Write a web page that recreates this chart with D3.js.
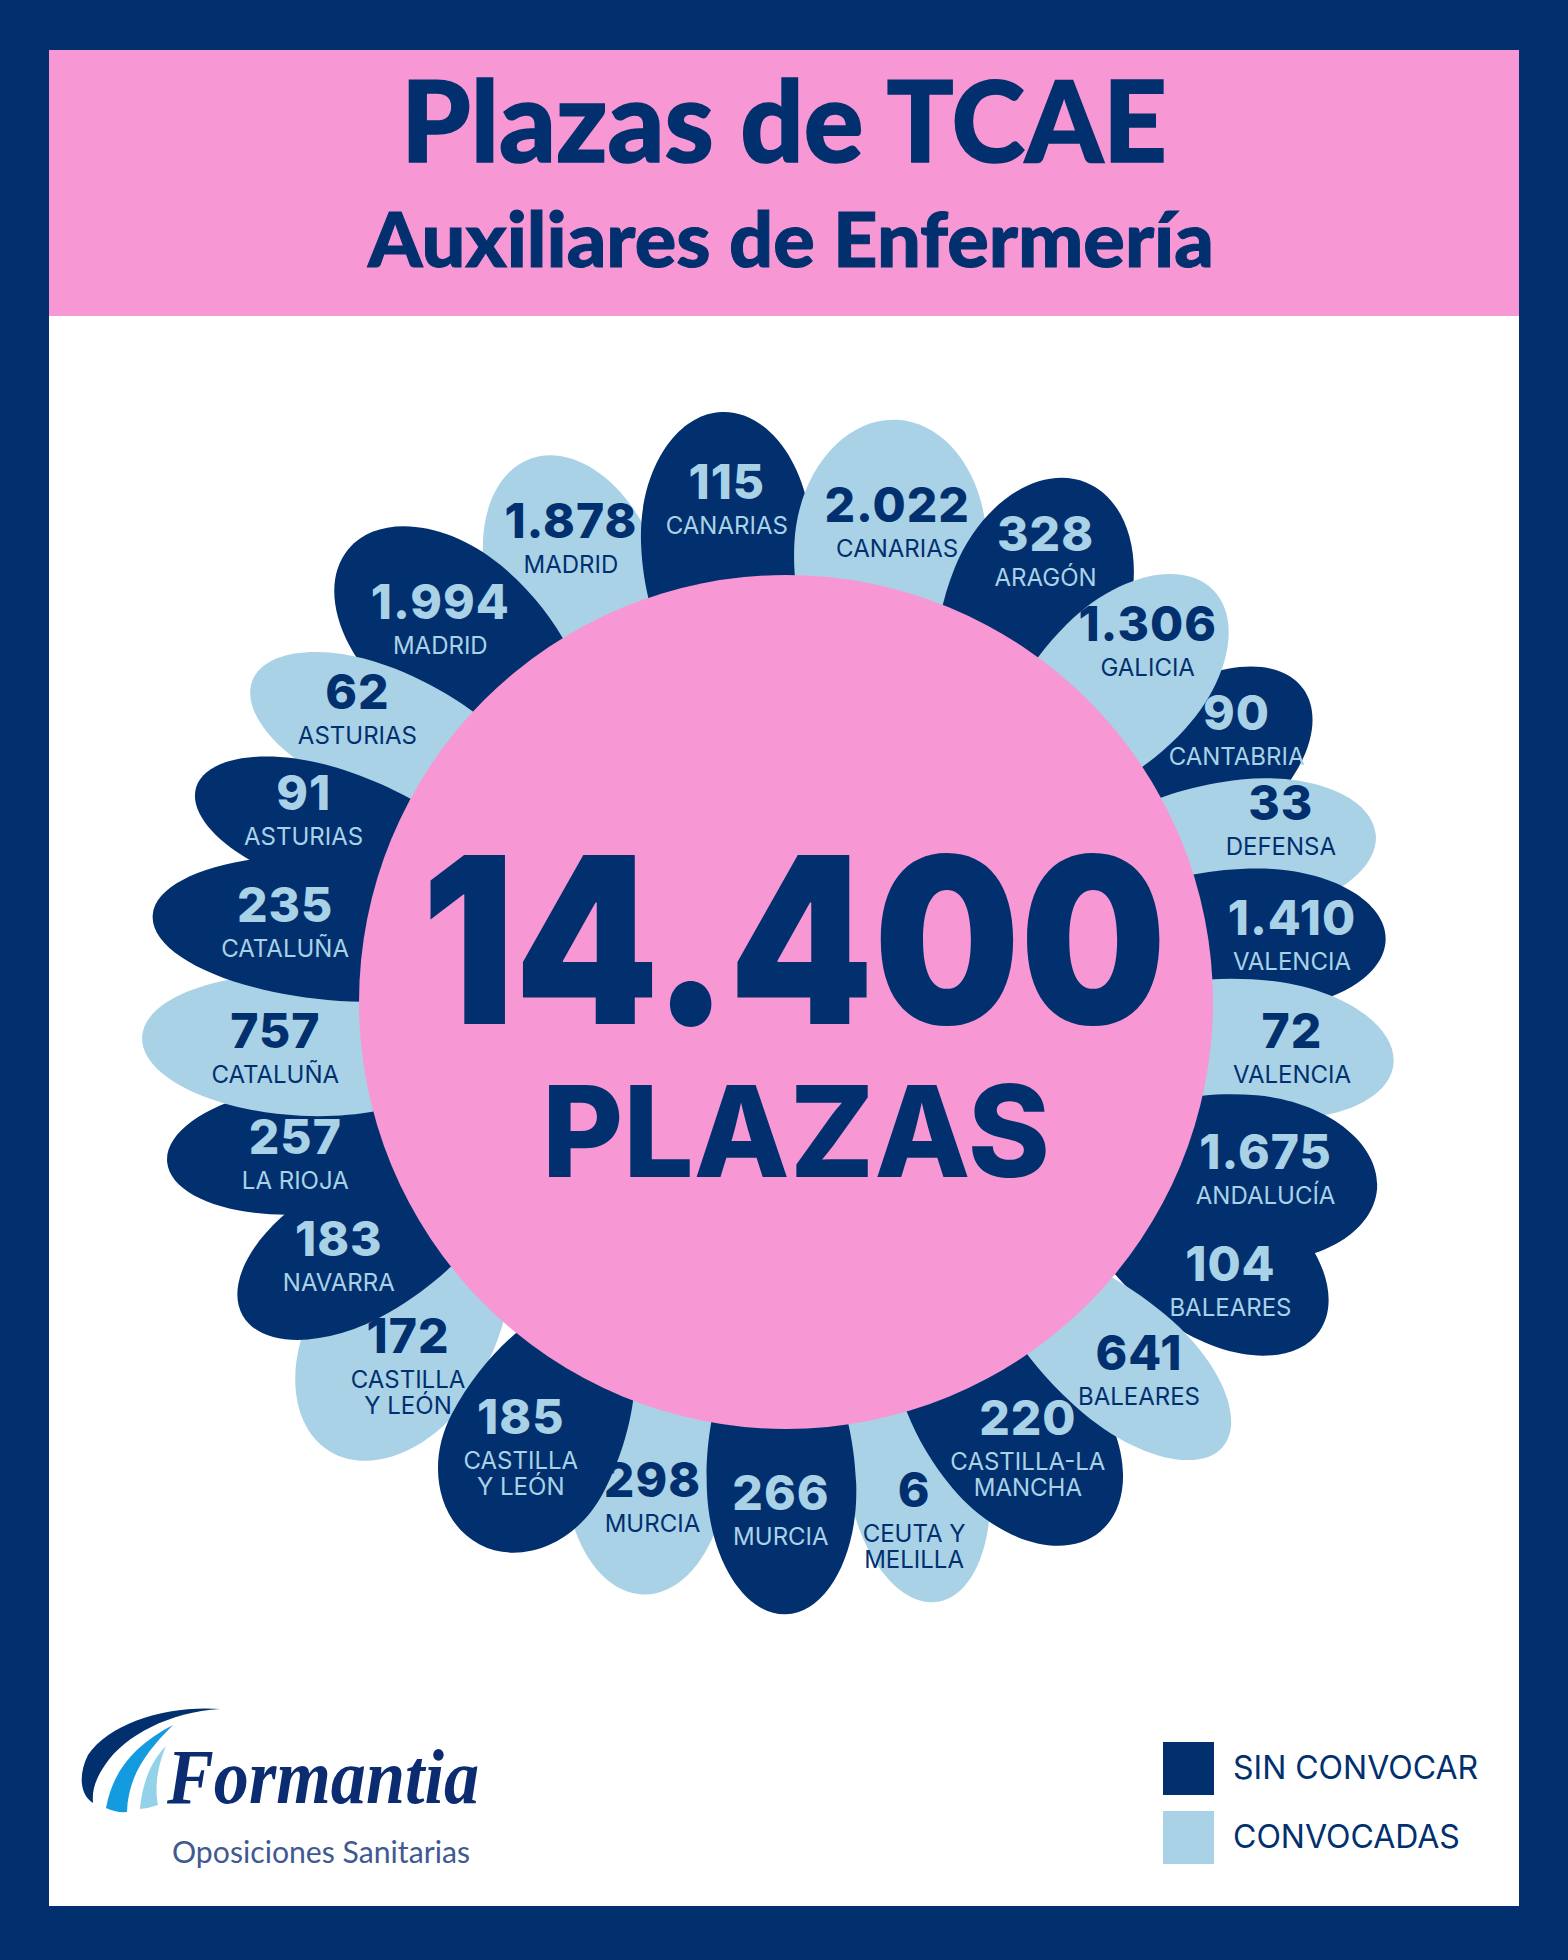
<!DOCTYPE html>
<html>
<head>
<meta charset="utf-8">
<script src="https://cdn.jsdelivr.net/npm/d3@7"></script>
<style>
  html, body { margin: 0; padding: 0; background: #fff; }
  svg { display: block; }
  text { font-family: Inter, "Noto Sans", sans-serif; }
</style>
</head>
<body>
<svg id="chart"></svg>
<script>
// clockwise from the top of the flower
const regions = ["CANARIAS", "CANARIAS", "ARAGÓN", "GALICIA", "CANTABRIA", "DEFENSA", "VALENCIA", "VALENCIA", "ANDALUCÍA", "BALEARES", "BALEARES", "CASTILLA-LA|MANCHA", "CEUTA Y|MELILLA", "MURCIA", "MURCIA", "CASTILLA|Y LEÓN", "CASTILLA|Y LEÓN", "NAVARRA", "LA RIOJA", "CATALUÑA", "CATALUÑA", "ASTURIAS", "ASTURIAS", "MADRID", "MADRID"];
const plazas = [115, 2022, 328, 1306, 90, 33, 1410, 72, 1675, 104, 641, 220, 6, 266, 298, 185, 172, 183, 257, 757, 235, 91, 62, 1994, 1878];
const status = ["S", "C", "S", "C", "S", "C", "S", "C", "S", "S", "C", "S", "C", "S", "C", "S", "C", "S", "S", "C", "S", "S", "C", "S", "C"];

// petals: tip bearing and axis in degrees, the rest in hub radii
const petalBearing = [353.8, 10.8, 30, 46, 58.8, 74.1, 84, 95.9, 107.6, 121.7, 135.5, 149.3, 165.8, 180, 193.5, 209.5, 225.5, 240, 255.5, 266.9, 277.8, 290, 301.1, 316, 334.8];
const petalAxis = [358, 3, 22, 45, 54, 84, 90, 97, 95, 125, 130, 140, 171, 178, 181, 208, 212, 240, 265, 273, 274, 287, 292, 310, 340];
const petalReach = [1.39, 1.388, 1.405, 1.39, 1.416, 1.436, 1.412, 1.43, 1.452, 1.468, 1.46, 1.442, 1.449, 1.434, 1.427, 1.459, 1.50, 1.469, 1.497, 1.51, 1.497, 1.47, 1.459, 1.475, 1.406];
const petalWidth = [0.40, 0.45, 0.42, 0.37, 0.36, 0.32, 0.33, 0.32, 0.39, 0.37, 0.30, 0.40, 0.33, 0.35, 0.38, 0.40, 0.42, 0.33, 0.30, 0.33, 0.34, 0.28, 0.30, 0.40, 0.40];
const petalBelly = [0.30, 0.30, 0.30, 0.30, 0.30, 0.30, 0.30, 0.30, 0.30, 0.30, 0.30, 0.30, 0.30, 0.30, 0.30, 0.24, 0.30, 0.30, 0.33, 0.38, 0.45, 0.30, 0.30, 0.30, 0.30];
const petalLayer = [0, 1, 2, 3, 0, 1, 2, 3, 4, 0, 1, 0, -1, 0, -1, 0, -1, 0, 1, 2, 3, 2, 1, 0, -1];
const labelBearing = [353.5, 12.6, 29, 43.7, 57.3, 68.1, 80.6, 93.3, 107.4, 120.5, 134.8, 149.8, 165.3, 180.6, 195.6, 212.6, 228.5, 242.1, 254.6, 266.8, 281, 293.4, 305.9, 319.2, 335.9];
const labelReach = [1.225, 1.193, 1.254, 1.226, 1.254, 1.249, 1.201, 1.187, 1.177, 1.208, 1.165, 1.126, 1.182, 1.15, 1.163, 1.153, 1.182, 1.185, 1.192, 1.198, 1.195, 1.231, 1.239, 1.239, 1.234];

const legendKeys = ["S", "C"];
const legendLabels = ["SIN CONVOCAR", "CONVOCADAS"];

const NAVY = "#02306f", LIGHT = "#a9d2e7", PINK = "#f797d3";
const W = 1568, H = 1960;
const cx = 786, cy = 1002, hubR = 427;

const svg = d3.select("#chart").attr("width", W).attr("height", H);

// frame and header
svg.append("rect").attr("width", W).attr("height", H).attr("fill", NAVY);
svg.append("rect").attr("x", 49).attr("y", 50).attr("width", 1470).attr("height", 1856).attr("fill", "#fff");
svg.append("rect").attr("x", 49).attr("y", 50).attr("width", 1470).attr("height", 266).attr("fill", PINK);

svg.append("text").text("Plazas de TCAE")
  .attr("x", 784).attr("y", 162).attr("text-anchor", "middle")
  .attr("textLength", 766).attr("lengthAdjust", "spacingAndGlyphs")
  .attr("stroke", NAVY).attr("stroke-width", 1.5)
  .style("font-family", "Lato").style("font-weight", 900).style("font-size", "112px").attr("fill", NAVY);
svg.append("text").text("Auxiliares de Enfermería")
  .attr("x", 791).attr("y", 267).attr("text-anchor", "middle")
  .attr("textLength", 846).attr("lengthAdjust", "spacingAndGlyphs")
  .attr("stroke", NAVY).attr("stroke-width", 1)
  .style("font-family", "Lato").style("font-weight", 900).style("font-size", "76px").attr("fill", NAVY);

// flower
const colour = d3.scaleOrdinal().domain(legendKeys).range([NAVY, LIGHT]);
const radial = d3.scaleLinear().domain([0, 1]).range([0, hubR]);
const toRad = d3.scaleLinear().domain([0, 360]).range([0, 2 * Math.PI]);
const polar = (bearing, r) => [cx + r * Math.sin(toRad(bearing)), cy - r * Math.cos(toRad(bearing))];

// tip at the origin, outer end a half ellipse, inner end tapering under the hub
function petalPath(i) {
  const s = radial(petalBelly[i]), half = radial(petalWidth[i]) / 2;
  const L = s + radial(0.42);
  const p = d3.path();
  p.moveTo(0, 0);
  p.bezierCurveTo(0, -0.55 * half, -0.45 * s, -half, -s, -half);
  p.bezierCurveTo(-s - 0.5 * (L - s), -half, -L + 0.1 * s, -0.5 * half, -L, 0);
  p.bezierCurveTo(-L + 0.1 * s, 0.5 * half, -s - 0.5 * (L - s), half, -s, half);
  p.bezierCurveTo(-0.45 * s, half, 0, 0.55 * half, 0, 0);
  p.closePath();
  return p.toString();
}

const order = d3.range(plazas.length).sort((a, b) => d3.ascending(petalLayer[a], petalLayer[b]));

svg.append("g").selectAll("path").data(order).join("path")
  .attr("d", i => petalPath(i))
  .attr("transform", i => `translate(${polar(petalBearing[i], radial(petalReach[i]))}) rotate(${petalAxis[i] - 90})`)
  .attr("fill", i => colour(status[i]));

svg.append("circle").attr("cx", cx).attr("cy", cy).attr("r", hubR).attr("fill", PINK);

const fmt = d3.formatLocale({ decimal: ",", thousands: ".", grouping: [3], currency: ["", ""] }).format(",d");

const labels = svg.append("g").selectAll("g").data(d3.range(plazas.length)).join("g")
  .attr("transform", i => `translate(${polar(labelBearing[i], radial(labelReach[i]))})`)
  .attr("text-anchor", "middle")
  .attr("fill", i => status[i] === "S" ? LIGHT : NAVY);

labels.append("text").text(i => fmt(plazas[i]))
  .attr("y", 17)
  .style("font-weight", 800).style("font-size", "48px").style("letter-spacing", "1px");

labels.each(function (i) {
  const g = d3.select(this);
  regions[i].split("|").forEach((line, k) => {
    g.append("text").text(line).attr("y", 52 + k * 26)
      .style("font-size", "24px").style("font-weight", 400);
  });
});

// centre figure
svg.append("text").text("14.400")
  .attr("x", 794).attr("y", 1024).attr("text-anchor", "middle")
  .attr("textLength", 745).attr("lengthAdjust", "spacingAndGlyphs")
  .style("font-weight", 900).style("font-size", "232px").attr("fill", NAVY);
svg.append("text").text("PLAZAS")
  .attr("x", 796).attr("y", 1177).attr("text-anchor", "middle")
  .attr("textLength", 508).attr("lengthAdjust", "spacingAndGlyphs")
  .style("font-weight", 800).style("font-size", "127px").attr("fill", NAVY);

// legend
const legend = svg.append("g").selectAll("g").data(legendKeys).join("g")
  .attr("transform", (d, i) => `translate(1163,${1742 + i * 69})`);
legend.append("rect").attr("width", 51).attr("height", 53).attr("fill", d => colour(d));
legend.append("text").text((d, i) => legendLabels[i])
  .attr("x", 70).attr("y", 37)
  .style("font-size", "32px").style("font-weight", 400).attr("fill", NAVY);

// logo
const logo = svg.append("g");
logo.append("path").attr("fill", NAVY)
  .attr("d", "M93,1803 C80,1795 78,1775 88,1755 C110,1722 170,1705 220,1709 C170,1712 125,1735 105,1765 C95,1780 92,1790 93,1803 Z");
logo.append("path").attr("fill", "#149ade")
  .attr("d", "M106,1808 C113,1770 135,1745 173,1725 C148,1750 128,1775 127,1812 Q116,1813 106,1808 Z");
logo.append("path").attr("fill", "#94d2ea")
  .attr("d", "M140,1809 C142,1785 150,1762 166,1746 C156,1770 155,1790 158,1805 Q150,1808 140,1809 Z");
logo.append("text").text("Formantia")
  .attr("x", 167).attr("y", 1803)
  .attr("textLength", 312).attr("lengthAdjust", "spacingAndGlyphs")
  .style("font-family", "Liberation Serif").style("font-style", "italic").style("font-weight", 700)
  .style("font-size", "78px").attr("fill", "#0c2c72");
logo.append("text").text("Oposiciones Sanitarias")
  .attr("x", 172).attr("y", 1863)
  .attr("textLength", 298).attr("lengthAdjust", "spacingAndGlyphs")
  .style("font-family", "Lato").style("font-size", "30px").attr("fill", "#3f5a92");
</script>
</body>
</html>
